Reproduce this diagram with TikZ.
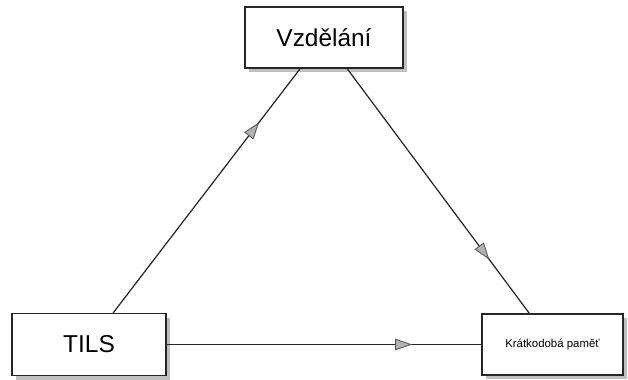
\documentclass[tikz,border=0pt]{standalone}
\usepackage{fontspec}
\setmainfont{Liberation Sans}
\usetikzlibrary{arrows.meta,shadows,decorations.markings}

\begin{document}
\begin{tikzpicture}
\tikzset{box/.style={draw=black!85, line width=.7pt, rectangle, fill=white, inner sep=0pt,
  drop shadow={shadow xshift=.08cm, shadow yshift=-.08cm, fill=black!25, opacity=1}},
  midarrow/.style={decoration={markings, mark=at position .78 with
  {\arrow{Triangle[length=3.4mm, width=2.3mm, fill=black!30, color=black!65, line width=.5pt]}}},
  postaction={decorate}},
  link/.style={draw=black!85, line width=.7pt, midarrow}}

\useasboundingbox (0,0) rectangle (12.56,7.58);

% Boxes
\node[box, minimum width=3.16cm, minimum height=1.22cm] (vzd) at (6.48,6.83)
{\fontsize{13.9}{16}\selectfont Vzdělání};
\node[box, minimum width=3.08cm, minimum height=1.24cm] (tils) at (1.78,.69)
{\fontsize{13.9}{16}\selectfont TILS};
\node[box, minimum width=2.82cm, minimum height=1.22cm] (kp) at (11.05,.69)
{\fontsize{6.5}{8}\selectfont Krátkodobá paměť};

% Connections
\draw[link] (tils) -- (vzd);
\draw[link] (vzd) -- (kp);
\draw[link] (tils) -- (kp);

\end{tikzpicture}
\end{document}
